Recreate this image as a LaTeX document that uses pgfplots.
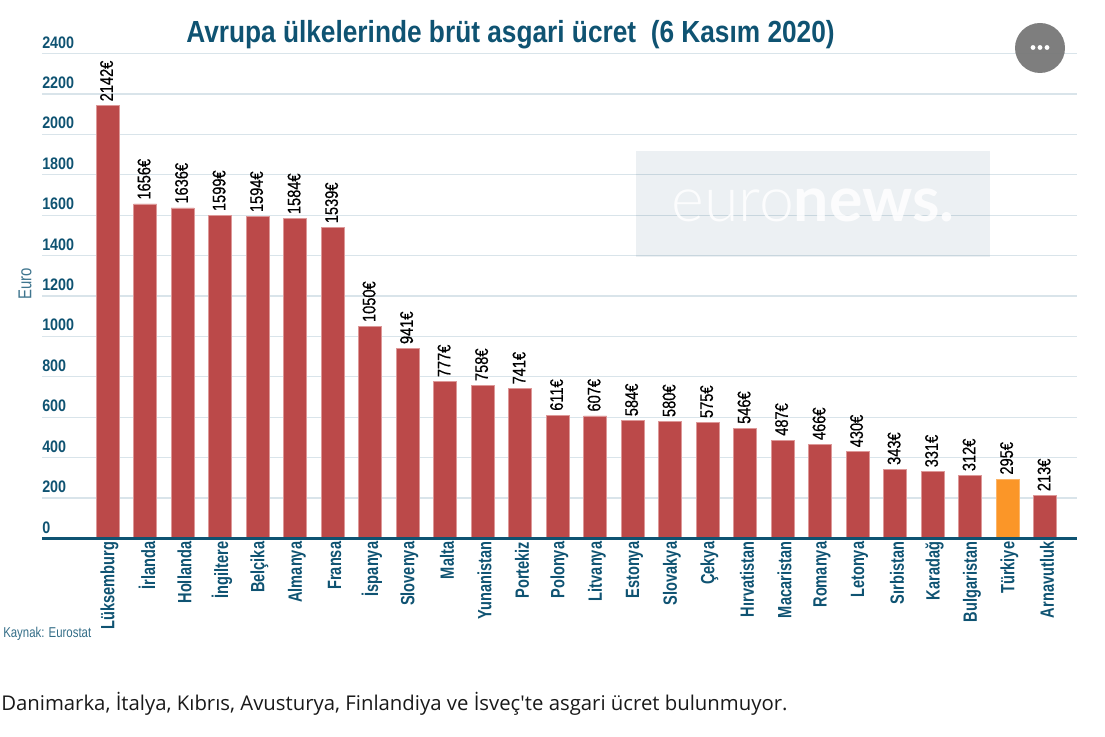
\documentclass[border=0pt]{standalone}
\usepackage{fontspec}
\usepackage{pgfplots}
\usepackage{pgfplotstable}
\pgfplotsset{compat=1.18}
\setmainfont{Liberation Sans}
\newfontfamily\narrow[FakeStretch=0.80]{Liberation Sans}
\newfontfamily\narrowl[FakeStretch=0.80,FakeBold=0.5]{Liberation Sans}
\newfontfamily\narrowb[FakeStretch=0.86,BoldFont={Liberation Sans Bold}]{Liberation Sans}
\newfontfamily\narrowc[FakeStretch=0.76,BoldFont={Liberation Sans Bold}]{Liberation Sans}
\newfontfamily\opensans{Open Sans}
\newfontfamily\lato[BoldFont={Lato Bold}]{Lato Light}
\definecolor{navy}{HTML}{0F5372}
\definecolor{gridc}{HTML}{D9E4EA}
\definecolor{barred}{HTML}{BB4949}
\definecolor{baredge}{HTML}{DD9898}
\definecolor{barorange}{HTML}{FB9628}
\definecolor{wmark}{HTML}{ECF0F3}
\pgfplotstableread{
x y
0 2142
1 1656
2 1636
3 1599
4 1594
5 1584
6 1539
7 1050
8 941
9 777
10 758
11 741
12 611
13 607
14 584
15 580
16 575
17 546
18 487
19 466
20 430
21 343
22 331
23 312
25 213
}\redbars
\pgfplotstableread{
x y
24 295
}\orangebars
\begin{document}
\begin{tikzpicture}
\path[use as bounding box] (0,0) rectangle (828.75pt,-552.75pt);
\begin{axis}[
	at={(31.5pt,-403.875pt)},anchor=south west,
	scale only axis,
	width=776.25pt,height=363.75pt,
	xmin=-1.747,xmax=25.853,ymin=0,ymax=2400,
	clip=false,
	axis line style={draw=none},
	major tick length=0pt,
	ytick distance=200,
	ymajorgrids,
	grid style={gridc,line width=0.9pt},
	xtick={0,...,25},
	xticklabels={Lüksemburg,İrlanda,Hollanda,İngiltere,Belçika,Almanya,Fransa,İspanya,Slovenya,Malta,Yunanistan,Portekiz,Polonya,Litvanya,Estonya,Slovakya,Çekya,Hırvatistan,Macaristan,Romanya,Letonya,Sırbistan,Karadağ,Bulgaristan,Türkiye,Arnavutluk},
	x tick label style={rotate=90,anchor=east,inner sep=0pt,xshift=-2.3pt,yshift=-1.5pt,font=\narrowc\bfseries\fontsize{14.4pt}{14.4pt}\selectfont,text=navy},
	/pgf/number format/assume math mode=true,
	/pgf/number format/1000 sep={},
	y tick label style={anchor=south west,inner sep=0pt,yshift=3.75pt,font=\narrowb\bfseries\fontsize{12.5pt}{12.5pt}\selectfont,text=navy},
	every node near coord/.style={rotate=90,anchor=west,inner sep=0pt,xshift=3pt,yshift=0.7pt,text=black,font=\narrowl\fontsize{13.7pt}{13.7pt}\selectfont},
	nodes near coords={\pgfmathprintnumber[1000 sep={},fixed]{\pgfplotspointmeta}€},
]
\addplot[ybar,bar width=17.25pt,bar shift=0pt,fill=barred,draw=baredge,line width=0.5pt] table[x=x,y=y] {\redbars};
\addplot[ybar,bar width=17.25pt,bar shift=0pt,fill=barorange,draw=barorange!70!white,line width=0.5pt] table[x=x,y=y] {\orangebars};
\end{axis}
\begin{scope}[x=0.75pt,y=-0.75pt]
\draw[navy,line width=1.6pt] (42,538.5) -- (1077,538.5);
\fill[fill=wmark,blend mode=multiply] (636,151) rectangle (990,257);
\node[anchor=base,text=white,text opacity=0.85,inner sep=0pt,font=\lato\fontsize{47pt}{47pt}\selectfont] at (813,221.5) {euro\textbf{news.}};
\fill[fill=gray!95!black,opacity=0.96] (1040,48) circle (25);
\fill[white] (1033,47.5) circle (2.4);
\fill[white] (1040,47.5) circle (2.4);
\fill[white] (1047,47.5) circle (2.4);
\node[anchor=base,inner sep=0pt,text=navy,font=\narrowb\bfseries\fontsize{22.9pt}{22.9pt}\selectfont] at (510.5,43) {Avrupa ülkelerinde brüt asgari ücret\ \ (6 Kasım 2020)};
\node[rotate=90,inner sep=0pt,text=navy!80!white,font=\narrow\fontsize{14pt}{14pt}\selectfont] at (25,284) {Euro};
\node[anchor=base west,inner sep=0pt,text=navy!85!white,font=\narrow\fontsize{10.7pt}{10.7pt}\selectfont] at (3,637) {Kaynak: Eurostat};
\node[anchor=base west,inner sep=0pt,text=black!90,font=\opensans\fontsize{15.25pt}{15.25pt}\selectfont] at (1,710) {Danimarka, İtalya, Kıbrıs, Avusturya, Finlandiya ve İsveç'te asgari ücret bulunmuyor.};
\end{scope}
\end{tikzpicture}
\end{document}
